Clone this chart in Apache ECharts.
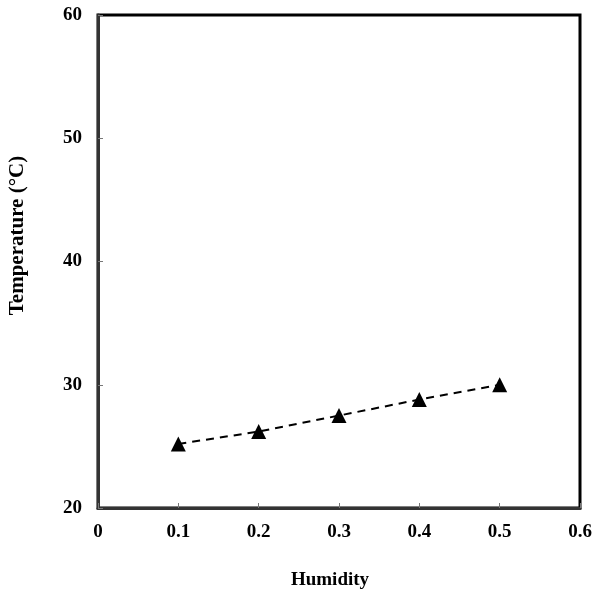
<!DOCTYPE html>
<html>
<head>
<meta charset="utf-8">
<script src="https://cdn.jsdelivr.net/npm/echarts@6/dist/echarts.min.js"></script>
<style>html,body{margin:0;padding:0;background:#fff}#c{width:595px;height:594px}</style>
</head>
<body>
<div id="c"></div>
<script>
var humidity = [0.1, 0.2, 0.3, 0.4, 0.5];
var temperature = [25.2, 26.2, 27.5, 28.8, 30.0];
var xTitle = 'Humidity';
var yTitle = 'Temperature (\u00B0C)';

var chart = echarts.init(document.getElementById('c'));
var font = 'Liberation Serif, Times New Roman, serif';
chart.setOption({
  animation: false,
  backgroundColor: '#fff',
  grid: {left: 98, right: 15, top: 15, bottom: 86, containLabel: false, outerBoundsMode: 'none',
    show: true, borderColor: '#000', borderWidth: 3, backgroundColor: 'transparent'},
  xAxis: {
    type: 'value', min: 0, max: 0.6, interval: 0.1,
    name: xTitle, nameLocation: 'middle', nameGap: 63,
    nameTextStyle: {fontFamily: font, fontWeight: 'bold', fontSize: 19, color: '#000', padding: [0, 18, 0, 0]},
    axisLine: {show: true, lineStyle: {color: '#333', width: 3}},
    axisTick: {show: true, inside: true, length: 5, lineStyle: {color: '#777', width: 1}},
    axisLabel: {fontFamily: font, fontWeight: 'bold', fontSize: 19, color: '#000', margin: 15,
      formatter: function (v) { return v === 0 ? '0' : v.toFixed(1); }},
    splitLine: {show: false}
  },
  yAxis: {
    type: 'value', min: 20, max: 60, interval: 10,
    name: yTitle, nameLocation: 'middle', nameGap: 70,
    nameTextStyle: {fontFamily: font, fontWeight: 'bold', fontSize: 21, color: '#000', padding: [0, 0, 0, 52]},
    axisLine: {show: true, lineStyle: {color: '#333', width: 3}},
    axisTick: {show: true, inside: true, length: 5, lineStyle: {color: '#777', width: 1}},
    axisLabel: {fontFamily: font, fontWeight: 'bold', fontSize: 19, color: '#000', margin: 16},
    splitLine: {show: false}
  },
  series: [{
    type: 'line',
    data: humidity.map(function (h, i) { return [h, temperature[i]]; }),
    symbol: 'triangle', symbolSize: 15,
    itemStyle: {color: '#000'},
    lineStyle: {color: '#000', width: 2, type: [8, 6]}
  }]
});
</script>
</body>
</html>
